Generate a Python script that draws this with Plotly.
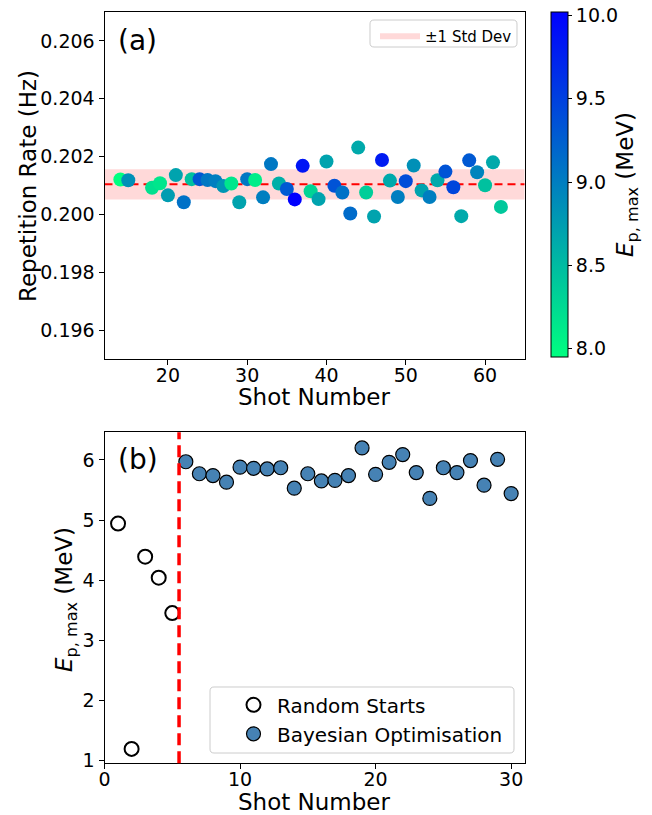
import plotly.graph_objects as go

# ---------------- Data ----------------
# Panel (a)
shots_a = [14, 15, 18, 19, 20, 21, 22, 23, 24, 25, 26, 27, 28, 29, 30, 31, 32, 33,
           34, 35, 36, 37, 38, 39, 40, 41, 42, 43, 44, 45, 46, 47, 48, 49, 50, 51,
           52, 53, 54, 55, 56, 57, 58, 59, 60, 61, 62]
rate_a = [0.20121, 0.20118, 0.20092, 0.20108, 0.20066, 0.20136, 0.20042, 0.20122,
          0.20122, 0.20119, 0.20115, 0.20098, 0.20107, 0.20042, 0.20122, 0.20119,
          0.20059, 0.20174, 0.20107, 0.20088, 0.20052, 0.20168, 0.20080, 0.20053,
          0.20183, 0.20099, 0.20076, 0.20003, 0.20231, 0.20076, 0.19993, 0.20188,
          0.20117, 0.20060, 0.20115, 0.20169, 0.20083, 0.20060, 0.20118, 0.20148,
          0.20094, 0.19994, 0.20187, 0.20146, 0.20101, 0.20180, 0.20026]
energy_a = [7.95, 8.85, 8.20, 8.15, 8.75, 8.70, 9.10, 8.45, 9.30, 9.05, 9.00, 8.80,
            8.15, 8.70, 9.05, 8.10, 9.00, 9.05, 8.60, 9.30, 10.02, 9.85, 8.30, 8.70,
            8.70, 9.35, 9.10, 9.15, 8.65, 8.35, 8.70, 9.80, 8.65, 9.00, 9.40, 8.85,
            8.70, 9.00, 8.65, 9.35, 9.45, 8.65, 9.30, 8.95, 8.45, 8.65, 8.40]
mean_rate = 0.20104
std_rate = 0.00052
rate_ticks = [0.196, 0.198, 0.200, 0.202, 0.204, 0.206]
cbar_ticks = [8.0, 8.5, 9.0, 9.5, 10.0]

# Panel (b)
shots_random = [1, 2, 3, 4, 5]
energy_random = [4.94, 1.19, 4.39, 4.04, 3.45]
shots_bo = list(range(6, 31))
energy_bo = [5.97, 5.77, 5.74, 5.63, 5.88, 5.86, 5.85, 5.87, 5.53, 5.77, 5.65, 5.66,
             5.74, 6.20, 5.76, 5.96, 6.09, 5.79, 5.36, 5.87, 5.79, 5.99, 5.58, 6.01, 5.44]
bo_start = 5.5
energy_ticks = [1, 2, 3, 4, 5, 6]
shot_ticks_b = [0, 10, 20, 30]
shot_ticks_a = [20, 30, 40, 50, 60]

# ---------------- Layout constants ----------------
W, H = 652, 815
FONT = "DejaVu Sans"
x_dom = [104.5 / W, 524.7 / W]
ya_dom = [1 - 359 / H, 1 - 12 / H]
yb_dom = [1 - 763.3 / H, 1 - 432.3 / H]
xa_range = [12, 65]
ya_range = [0.195, 0.207]
xb_range = [0, 31]
yb_range = [0.95, 6.46]

fig = go.Figure()

# band (+-1 std)
fig.add_trace(go.Scatter(
    x=[xa_range[0], xa_range[1], xa_range[1], xa_range[0], xa_range[0]],
    y=[mean_rate - std_rate, mean_rate - std_rate, mean_rate + std_rate,
       mean_rate + std_rate, mean_rate - std_rate],
    fill="toself", fillcolor="rgba(255,0,0,0.15)", mode="none",
    name="±1 Std Dev", xaxis="x", yaxis="y", legend="legend", hoverinfo="skip"))

# mean line
fig.add_trace(go.Scatter(
    x=xa_range, y=[mean_rate, mean_rate], mode="lines",
    line=dict(color="red", width=2, dash="8px,5px"),
    showlegend=False, xaxis="x", yaxis="y"))

# points (a)
fig.add_trace(go.Scatter(
    x=shots_a, y=rate_a, mode="markers", showlegend=False,
    marker=dict(size=14, color=energy_a,
                colorscale=[[0, "rgb(0,255,128)"], [1, "rgb(0,0,255)"]],
                cmin=min(energy_a), cmax=max(energy_a), line=dict(width=0),
                showscale=True,
                colorbar=dict(x=551 / W, xanchor="left", xref="paper",
                              y=1 - 12 / H, yanchor="top", yref="paper",
                              len=345 / H, lenmode="fraction",
                              thickness=17, thicknessmode="pixels",
                              xpad=0, ypad=0, outlinewidth=1, outlinecolor="black",
                              tickvals=cbar_ticks, ticktext=[f"{v:.1f}" for v in cbar_ticks],
                              ticks="outside", ticklen=4, tickwidth=1, tickcolor="black",
                              tickfont=dict(family=FONT, size=19, color="black"))),
    xaxis="x", yaxis="y"))

# panel (b)
fig.add_trace(go.Scatter(
    x=shots_random, y=energy_random, mode="markers", name="Random Starts",
    marker=dict(size=14, color="white", line=dict(color="black", width=2)),
    xaxis="x2", yaxis="y2", legend="legend2"))
fig.add_trace(go.Scatter(
    x=shots_bo, y=energy_bo, mode="markers", name="Bayesian Optimisation",
    marker=dict(size=14, color="#4682B4", line=dict(color="black", width=1.2)),
    xaxis="x2", yaxis="y2", legend="legend2"))

fig.add_shape(type="line", xref="x2", yref="y2 domain", x0=bo_start, x1=bo_start,
              y0=0, y1=1, line=dict(color="red", width=3.5, dash="12px,6px"),
              layer="above")


def rounded_box(x0, y0, x1, y1, r=4):
    # pixel coords (top-left origin) -> paper path
    def P(x, y):
        return f"{x / W:.5f},{1 - y / H:.5f}"
    return (f"M{P(x0 + r, y0)} L{P(x1 - r, y0)} Q{P(x1, y0)} {P(x1, y0 + r)} "
            f"L{P(x1, y1 - r)} Q{P(x1, y1)} {P(x1 - r, y1)} L{P(x0 + r, y1)} "
            f"Q{P(x0, y1)} {P(x0, y1 - r)} L{P(x0, y0 + r)} Q{P(x0, y0)} {P(x0 + r, y0)} Z")


fig.add_shape(type="path", xref="paper", yref="paper",
              path=rounded_box(370, 20, 517, 47),
              fillcolor="rgba(255,255,255,0.8)", line=dict(color="#cccccc", width=1),
              layer="above")
fig.add_shape(type="path", xref="paper", yref="paper",
              path=rounded_box(210, 687, 514, 753),
              fillcolor="rgba(255,255,255,0.8)", line=dict(color="#cccccc", width=1),
              layer="above")

axis_common = dict(showgrid=False, zeroline=False, showline=True, mirror=True,
                   linecolor="black", linewidth=1, ticks="outside", ticklen=5,
                   tickwidth=1, tickcolor="black", automargin=False,
                   tickfont=dict(family=FONT, size=19, color="black"))

fig.update_layout(
    width=W, height=H, margin=dict(l=0, r=0, t=0, b=0),
    paper_bgcolor="white", plot_bgcolor="white",
    font=dict(family=FONT, color="black"),
    xaxis=dict(domain=x_dom, anchor="y", range=xa_range, tickvals=shot_ticks_a,
               ticklabelstandoff=-6, **axis_common),
    yaxis=dict(domain=ya_dom, anchor="x", range=ya_range, tickvals=rate_ticks,
               tickformat=".3f", **axis_common),
    xaxis2=dict(domain=x_dom, anchor="y2", range=xb_range, tickvals=shot_ticks_b,
                ticklabelstandoff=-6, **axis_common),
    yaxis2=dict(domain=yb_dom, anchor="x2", range=yb_range, tickvals=energy_ticks, **axis_common),
    legend=dict(x=517 / W, xanchor="right", y=1 - 20 / H, yanchor="top",
                bgcolor="rgba(0,0,0,0)", borderwidth=0,
                font=dict(family=FONT, size=15, color="black"), itemwidth=40),
    legend2=dict(x=230 / W, xanchor="left", y=1 - 753.3 / H, yanchor="bottom",
                 bgcolor="rgba(0,0,0,0)", borderwidth=0,
                 font=dict(family=FONT, size=20, color="black"), itemwidth=37,
                 tracegroupgap=2),
    showlegend=True,
)

ann = []
ann.append(dict(text="(a)", x=116 / W, y=1 - 40 / H, xref="paper", yref="paper",
                xanchor="left", yanchor="middle", showarrow=False,
                font=dict(family=FONT, size=28, color="black")))
ann.append(dict(text="(b)", x=116 / W, y=1 - 459 / H, xref="paper", yref="paper",
                xanchor="left", yanchor="middle", showarrow=False,
                font=dict(family=FONT, size=28, color="black")))
ann.append(dict(text="Repetition Rate (Hz)", x=28 / W, y=1 - 186 / H, xref="paper", yref="paper",
                xanchor="center", yanchor="middle", textangle=-90, showarrow=False,
                font=dict(family=FONT, size=23, color="black")))
ann.append(dict(text="Shot Number", x=314 / W, y=1 - 397 / H, xref="paper", yref="paper",
                xanchor="center", yanchor="middle", showarrow=False,
                font=dict(family=FONT, size=23, color="black")))
ann.append(dict(text="Shot Number", x=314 / W, y=1 - 802 / H, xref="paper", yref="paper",
                xanchor="center", yanchor="middle", showarrow=False,
                font=dict(family=FONT, size=23, color="black")))
ann.append(dict(text="<i>E</i><sub>p, max</sub> (MeV)", x=66 / W, y=1 - 600 / H,
                xref="paper", yref="paper", xanchor="center", yanchor="middle",
                textangle=-90, showarrow=False,
                font=dict(family=FONT, size=23, color="black")))
ann.append(dict(text="<i>E</i><sub>p, max</sub> (MeV)", x=627 / W, y=1 - 185 / H,
                xref="paper", yref="paper", xanchor="center", yanchor="middle",
                textangle=-90, showarrow=False,
                font=dict(family=FONT, size=23, color="black")))
fig.update_layout(annotations=ann)

fig.write_html("out.html")
